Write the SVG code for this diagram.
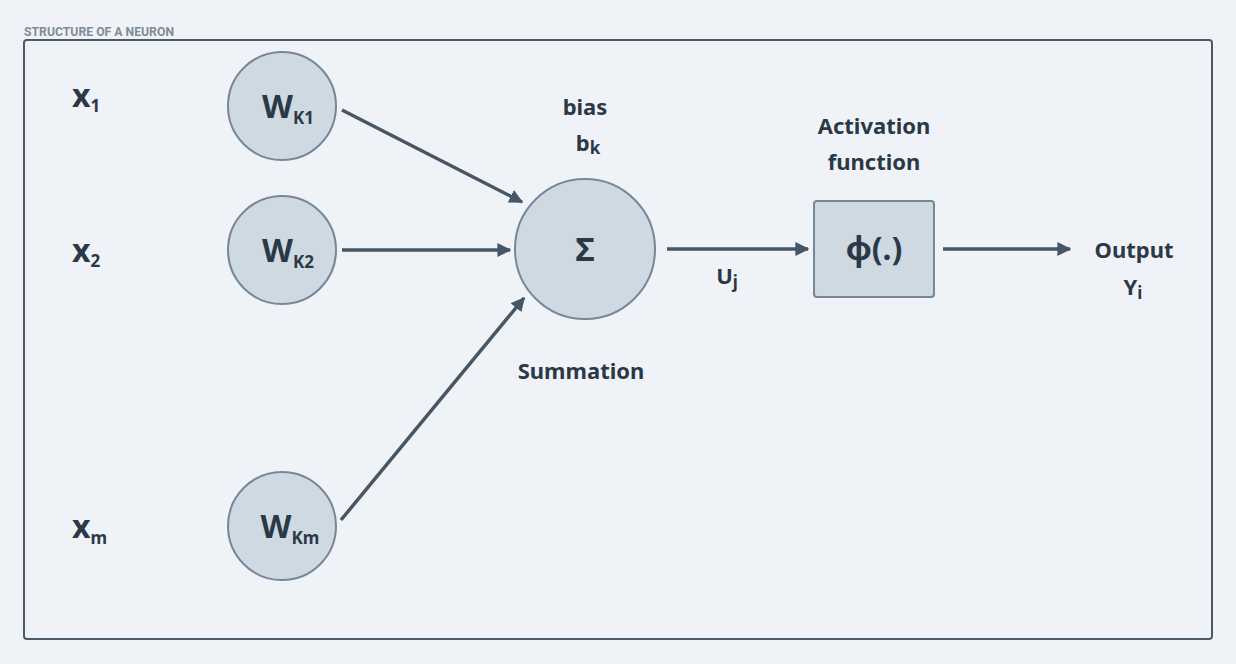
<svg xmlns="http://www.w3.org/2000/svg" width="1236" height="664" viewBox="0 0 1236 664">
<style>
text{font-family:"Noto Sans","Liberation Sans",sans-serif;font-weight:bold;fill:#2b3947}
.node{fill:#cfd9e2;stroke:#76879a;stroke-width:2}
.lbl{font-size:22px;text-anchor:middle}
.big{font-size:32px}
.w{font-size:32px;text-anchor:middle}
.sub{font-size:17px}
.edge{stroke:#465666;stroke-width:3.5;fill:none;marker-end:url(#ah)}
</style>
<defs>
<marker id="ah" viewBox="0 0 10 10" refX="9" refY="5" markerWidth="4" markerHeight="4" orient="auto" markerUnits="strokeWidth">
<path d="M0,0 L10,5 L0,10 z" fill="#465666"/>
</marker>
</defs>
<rect width="1236" height="664" fill="#eff3f7"/>
<text x="24" y="36" textLength="150" lengthAdjust="spacingAndGlyphs" style="font-size:12px;fill:#7f8b98;font-weight:bold;font-family:'Roboto','Liberation Sans',sans-serif">STRUCTURE OF A NEURON</text>
<rect x="24" y="40" width="1188" height="599" rx="3" fill="none" stroke="#4a5a6a" stroke-width="2"/>
<g id="connectors">
<line class="edge" x1="342" y1="110" x2="522" y2="202"/>
<line class="edge" x1="342" y1="250" x2="510" y2="250"/>
<line class="edge" x1="341" y1="520" x2="524" y2="298"/>
<line class="edge" x1="667" y1="249" x2="808" y2="249"/>
<line class="edge" x1="943" y1="249" x2="1070" y2="249"/>
</g>
<g id="x1"><text x="72" y="107" class="big">x<tspan class="sub" dy="5">1</tspan></text></g>
<g id="x2"><text x="72" y="262" class="big">x<tspan class="sub" dy="5">2</tspan></text></g>
<g id="xm"><text x="72" y="538" class="big">x<tspan class="sub" dy="6">m</tspan></text></g>
<g id="wk1"><circle class="node" cx="282" cy="106" r="54"/><text x="288" y="118" class="w">W<tspan class="sub" dy="6">K1</tspan></text></g>
<g id="wk2"><circle class="node" cx="282" cy="250" r="54"/><text x="288" y="262" class="w">W<tspan class="sub" dy="6">K2</tspan></text></g>
<g id="wkm"><circle class="node" cx="282" cy="526" r="54"/><text x="290" y="538" class="w">W<tspan class="sub" dy="6">Km</tspan></text></g>
<g id="bias"><text x="585" y="115" class="lbl">bias</text><text x="588" y="151" class="lbl">b<tspan class="sub" dy="3">k</tspan></text></g>
<g id="sum"><circle class="node" cx="585" cy="249" r="70"/><text x="585" y="261" style="font-size:33px;text-anchor:middle">Σ</text></g>
<g id="summation"><text x="581" y="379" class="lbl">Summation</text></g>
<g id="uj"><text x="727" y="284" class="lbl">U<tspan class="sub" dy="4">j</tspan></text></g>
<g id="act-label"><text x="874" y="134" class="lbl">Activation</text><text x="874" y="170" class="lbl">function</text></g>
<g id="act"><rect class="node" x="814" y="201" width="120" height="96" rx="3"/><text x="874" y="260" style="font-size:32px;text-anchor:middle">ϕ(.)</text></g>
<g id="output"><text x="1134" y="258" class="lbl">Output</text><text x="1133" y="295" class="lbl">Y<tspan class="sub" dy="4">i</tspan></text></g>
</svg>
